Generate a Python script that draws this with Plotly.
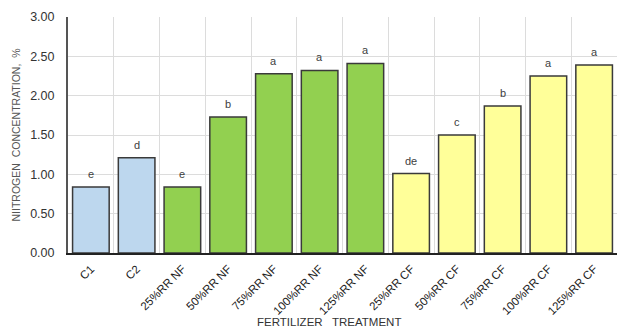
import plotly.graph_objects as go

treatments = ["C1", "C2",
              "25%RR NF", "50%RR NF", "75%RR NF", "100%RR NF", "125%RR NF",
              "25%RR CF", "50%RR CF", "75%RR CF", "100%RR CF", "125%RR CF"]
nitrogen = [0.84, 1.21, 0.84, 1.73, 2.28, 2.32, 2.41, 1.01, 1.50, 1.87, 2.25, 2.39]
letters = ["e", "d", "e", "b", "a", "a", "a", "de", "c", "b", "a", "a"]
groups = ["control"] * 2 + ["NF"] * 5 + ["CF"] * 5
y_ticks = [0.0, 0.5, 1.0, 1.5, 2.0, 2.5, 3.0]

group_colors = {"control": "#BDD7EE", "NF": "#92D050", "CF": "#FFFF99"}
bar_colors = [group_colors[g] for g in groups]

FONT = "Liberation Sans, Arial, sans-serif"

fig = go.Figure()
fig.add_trace(go.Bar(
    x=treatments,
    y=nitrogen,
    marker=dict(color=bar_colors, line=dict(color="#3a3a3a", width=1.5)),
    width=0.8,
    hoverinfo="x+y",
))

# significance letters above each bar
for t, v, s in zip(treatments, nitrogen, letters):
    fig.add_annotation(x=t, y=v, text=s, showarrow=False, yanchor="bottom",
                       yshift=5, font=dict(family=FONT, size=11, color="#404040"))

fig.add_annotation(xref="paper", yref="paper", x=0.475, y=0, yanchor="top",
                   yshift=-61, text="FERTILIZER   TREATMENT", showarrow=False,
                   font=dict(family=FONT, size=11.5, color="#333333"))

fig.update_layout(
    width=618, height=330,
    margin=dict(l=68, r=1, t=17, b=77),
    paper_bgcolor="white", plot_bgcolor="white",
    showlegend=False,
    font=dict(family=FONT, color="#333333"),
    xaxis=dict(
        type="category",
        tickson="boundaries",
        showgrid=True, gridcolor="#dcdcdc", gridwidth=1,
        showline=True, linecolor="#222222", linewidth=1.5,
        ticks="", tickangle=-45, ticklabelstandoff=3,
        tickfont=dict(family=FONT, size=11.5, color="#222222"),
        range=[-0.5, 11.5],
    ),
    yaxis=dict(
        range=[0, 3.0],
        tickvals=y_ticks,
        ticktext=[f"{v:.2f}" for v in y_ticks],
        showgrid=True, gridcolor="#dcdcdc", gridwidth=1,
        showline=True, linecolor="#555555", linewidth=2,
        zeroline=False, ticks="", ticklabelstandoff=9,
        tickfont=dict(family=FONT, size=12.5, color="#333333"),
        title=dict(text="NIITROGEN  CONCENTRATION,  %", standoff=7,
                   font=dict(family=FONT, size=10.5, color="#555555")),
    ),
)

fig.write_html("out.html")
